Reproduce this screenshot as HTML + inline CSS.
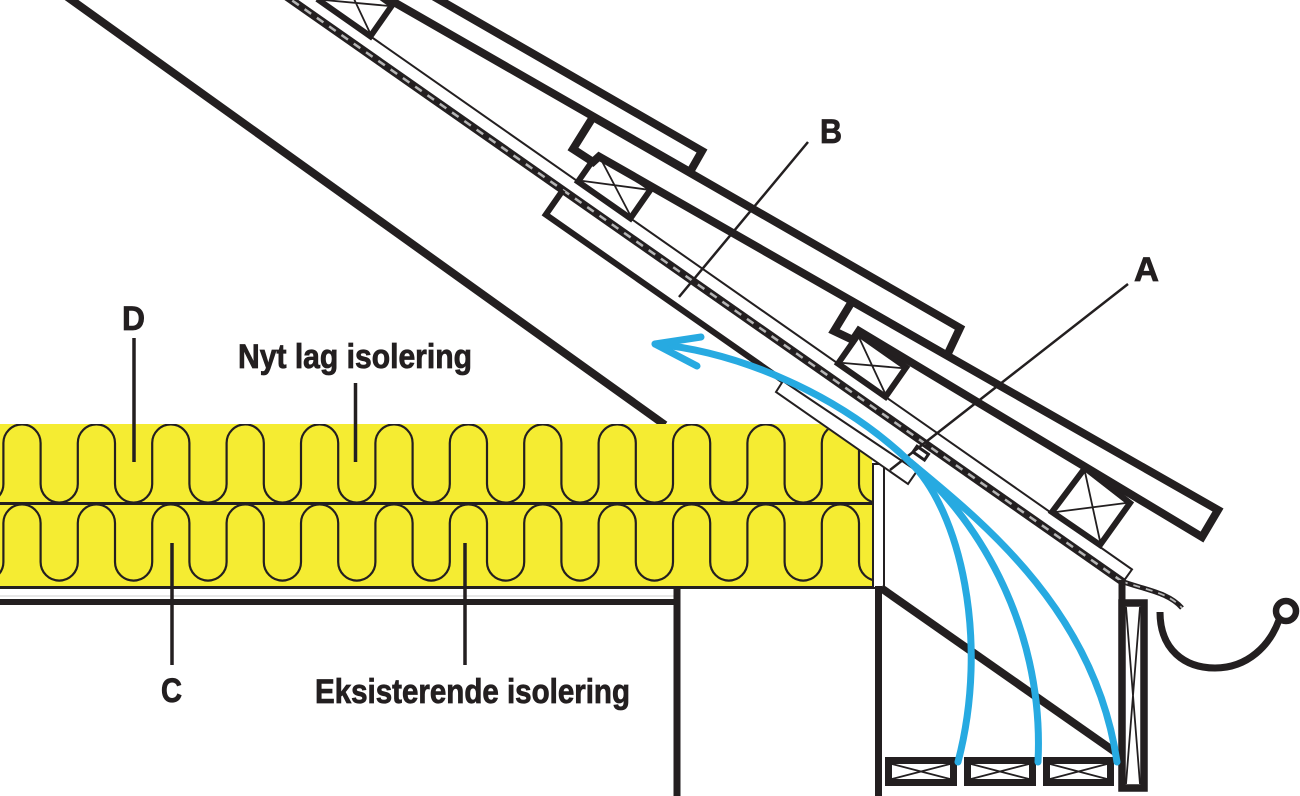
<!DOCTYPE html>
<html>
<head>
<meta charset="utf-8">
<style>
  html, body { margin: 0; padding: 0; background: #ffffff; }
  svg { display: block; }
  text { font-family: "Liberation Sans Narrow", "Liberation Sans", sans-serif; font-weight: bold; fill: #231f20; stroke: #231f20; stroke-width: 0.8; }
</style>
</head>
<body>
<svg width="1300" height="796" viewBox="0 0 1300 796" xmlns="http://www.w3.org/2000/svg">
  <rect width="1300" height="796" fill="#ffffff"/>
  <defs>
    <clipPath id="ins"><polygon points="0,424 820,424 872,459 872,587 0,587"/></clipPath>
  </defs>

  <!-- inner rafter line -->
  <line x1="66" y1="-4" x2="665" y2="425" stroke="#231f20" stroke-width="8"/>

  <!-- insulation -->
  <polygon points="0,424 820,424 872,459 872,587 0,587" fill="#f5ec32"/>
  <g clip-path="url(#ins)" fill="none" stroke="#231f20" stroke-width="2.2">
    <path d="M-33.8 443 v41a18.6 18.6 0 0 0 37.2 0v-41a18.6 18.6 0 0 1 37.2 0 v41a18.6 18.6 0 0 0 37.2 0v-41a18.6 18.6 0 0 1 37.2 0 v41a18.6 18.6 0 0 0 37.2 0v-41a18.6 18.6 0 0 1 37.2 0 v41a18.6 18.6 0 0 0 37.2 0v-41a18.6 18.6 0 0 1 37.2 0 v41a18.6 18.6 0 0 0 37.2 0v-41a18.6 18.6 0 0 1 37.2 0 v41a18.6 18.6 0 0 0 37.2 0v-41a18.6 18.6 0 0 1 37.2 0 v41a18.6 18.6 0 0 0 37.2 0v-41a18.6 18.6 0 0 1 37.2 0 v41a18.6 18.6 0 0 0 37.2 0v-41a18.6 18.6 0 0 1 37.2 0 v41a18.6 18.6 0 0 0 37.2 0v-41a18.6 18.6 0 0 1 37.2 0 v41a18.6 18.6 0 0 0 37.2 0v-41a18.6 18.6 0 0 1 37.2 0 v41a18.6 18.6 0 0 0 37.2 0v-41a18.6 18.6 0 0 1 37.2 0 v41a18.6 18.6 0 0 0 37.2 0v-41a18.6 18.6 0 0 1 37.2 0 v41a18.6 18.6 0 0 0 37.2 0v-41a18.6 18.6 0 0 1 37.2 0"/>
    <path d="M-33.8 523 v39a18.6 18.6 0 0 0 37.2 0v-39a18.6 18.6 0 0 1 37.2 0 v39a18.6 18.6 0 0 0 37.2 0v-39a18.6 18.6 0 0 1 37.2 0 v39a18.6 18.6 0 0 0 37.2 0v-39a18.6 18.6 0 0 1 37.2 0 v39a18.6 18.6 0 0 0 37.2 0v-39a18.6 18.6 0 0 1 37.2 0 v39a18.6 18.6 0 0 0 37.2 0v-39a18.6 18.6 0 0 1 37.2 0 v39a18.6 18.6 0 0 0 37.2 0v-39a18.6 18.6 0 0 1 37.2 0 v39a18.6 18.6 0 0 0 37.2 0v-39a18.6 18.6 0 0 1 37.2 0 v39a18.6 18.6 0 0 0 37.2 0v-39a18.6 18.6 0 0 1 37.2 0 v39a18.6 18.6 0 0 0 37.2 0v-39a18.6 18.6 0 0 1 37.2 0 v39a18.6 18.6 0 0 0 37.2 0v-39a18.6 18.6 0 0 1 37.2 0 v39a18.6 18.6 0 0 0 37.2 0v-39a18.6 18.6 0 0 1 37.2 0 v39a18.6 18.6 0 0 0 37.2 0v-39a18.6 18.6 0 0 1 37.2 0 v39a18.6 18.6 0 0 0 37.2 0v-39a18.6 18.6 0 0 1 37.2 0"/>
  </g>
  <line x1="0" y1="503.5" x2="872" y2="503.5" stroke="#231f20" stroke-width="3"/>
  <line x1="0" y1="587.5" x2="878" y2="587.5" stroke="#231f20" stroke-width="3"/>

  <!-- ceiling -->
  <line x1="0" y1="596" x2="676" y2="596" stroke="#cfcfcf" stroke-width="1"/>
  <line x1="0" y1="602" x2="680" y2="602" stroke="#231f20" stroke-width="6"/>
  <line x1="677" y1="586" x2="677" y2="796" stroke="#231f20" stroke-width="7"/>

  <!-- wall plate strip -->
  <rect x="873" y="464" width="11" height="124" fill="#ffffff" stroke="#231f20" stroke-width="2"/>
  <line x1="878.5" y1="586" x2="878.5" y2="796" stroke="#231f20" stroke-width="7"/>
  <!-- soffit diagonal -->
  <line x1="881" y1="588" x2="1118" y2="754" stroke="#231f20" stroke-width="8"/>

  <!-- membrane (underlay) -->
  <line x1="280" y1="-8" x2="1123" y2="582.1" stroke="#231f20" stroke-width="8"/>
  <line x1="280" y1="-8" x2="1123" y2="582.1" stroke="#b5b5b5" stroke-width="2.5" stroke-dasharray="8 7"/>
  <path d="M1121 581 C1145 590 1168 592 1182 608" fill="none" stroke="#231f20" stroke-width="5"/>
  <path d="M1121 581 C1145 590 1168 592 1182 608" fill="none" stroke="#b5b5b5" stroke-width="1.8" stroke-dasharray="7 6"/>
  <!-- counter batten thin line -->
  <polyline points="305,-9.5 1132,569.4 1123,582" fill="none" stroke="#231f20" stroke-width="2"/>

  <!-- lower board under membrane -->
  <polyline points="563,190 545.8,214.6 783,380.7" fill="none" stroke="#231f20" stroke-width="6"/>
  <polygon points="783,381 917,471 908,484 776,392" fill="#ffffff" stroke="#231f20" stroke-width="2"/>
  <!-- small part A -->
  <g transform="translate(913,452) rotate(35)">
    <rect x="0" y="-7" width="14" height="7" fill="#ffffff" stroke="#231f20" stroke-width="3"/>
  </g>

  <!-- battens -->
  <g fill="#ffffff" stroke="#231f20">
    <g transform="translate(319.6,0.7) rotate(35)">
      <rect x="0" y="-38" width="62" height="38" stroke-width="6"/>
      <path d="M3 -3 L59 -35 M3 -35 L59 -3" stroke-width="1.8"/>
    </g>
    <g transform="translate(578,181.6) rotate(35)">
      <rect x="0" y="-36" width="64" height="36" stroke-width="6"/>
      <path d="M3 -3 L61 -33 M3 -33 L61 -3" stroke-width="1.8"/>
    </g>
    <g transform="translate(838,363.6) rotate(35)">
      <rect x="0" y="-36" width="58" height="36" stroke-width="6"/>
      <path d="M3 -3 L55 -33 M3 -33 L55 -3" stroke-width="1.8"/>
    </g>
    <polygon points="1085,468 1130,503 1100,545 1052,512" stroke-width="6"/>
    <path d="M1085,472 L1100,541 M1056,512 L1126,503" stroke-width="1.8"/>
  </g>

  <!-- tiles -->
  <g fill="#ffffff" stroke="#231f20" stroke-width="8" stroke-linejoin="miter">
    <polygon points="300,-80.5 702,151 690,172 250,-80.5"/>
    <polygon points="593,117 960,328 947,355.5 599,156.5 593,162 573,149"/>
    <polygon points="852,301.4 1218,510 1202,537 859,331 853,340 834,331"/>
  </g>

  <!-- bottom battens -->
  <g fill="#ffffff" stroke="#231f20">
    <rect x="888.5" y="760.5" width="65" height="22" stroke-width="7"/>
    <path d="M892 764 L950 779 M892 779 L950 764" stroke-width="1.8"/>
    <rect x="967.5" y="760.5" width="65" height="22" stroke-width="7"/>
    <path d="M971 764 L1029 779 M971 779 L1029 764" stroke-width="1.8"/>
    <rect x="1046.5" y="760.5" width="64" height="22" stroke-width="7"/>
    <path d="M1050 764 L1107 779 M1050 779 L1107 764" stroke-width="1.8"/>
    <rect x="1122" y="603" width="22" height="185" stroke-width="7.5"/>
    <path d="M1126 607 L1140 784 M1140 607 L1126 784" stroke-width="1.8"/>
  </g>
  <line x1="1122" y1="580" x2="1122" y2="604" stroke="#231f20" stroke-width="7"/>

  <!-- gutter -->
  <path d="M1160 612 C1160 650 1185 668 1215 668 C1248 668 1270 645 1279 620" fill="none" stroke="#231f20" stroke-width="7"/>
  <circle cx="1286" cy="611" r="10" fill="#ffffff" stroke="#231f20" stroke-width="6.5"/>

  <!-- leader lines -->
  <g stroke="#231f20" fill="none">
    <line x1="808" y1="142" x2="679" y2="297" stroke-width="2.5"/>
    <line x1="1128" y1="284" x2="890" y2="470" stroke-width="2.5"/>
    <line x1="134" y1="338" x2="134" y2="462" stroke-width="3.5"/>
    <line x1="355.5" y1="383" x2="355.5" y2="462" stroke-width="3.5"/>
    <line x1="172" y1="543" x2="172" y2="665" stroke-width="3.5"/>
    <line x1="465" y1="543" x2="465" y2="665" stroke-width="3.5"/>
  </g>

  <!-- airflow arrows -->
  <g fill="none" stroke="#27aae1" stroke-width="7" stroke-linecap="round" stroke-linejoin="round">
    <path d="M655 344 C740 352 840 395 910 462"/>
    <path d="M701 337 L655 344 L697 366"/>
    <path d="M910 462 C980 520 1095 610 1117 762"/>
    <path d="M910 462 C970 510 1045 620 1038 762"/>
    <path d="M910 462 C960 510 990 640 958 762"/>
  </g>

  <!-- labels -->
  <text x="820" y="143" font-size="34" textLength="22" lengthAdjust="spacingAndGlyphs">B</text>
  <text x="1134" y="281" font-size="34" textLength="25" lengthAdjust="spacingAndGlyphs">A</text>
  <text x="122" y="330" font-size="34" textLength="23" lengthAdjust="spacingAndGlyphs">D</text>
  <text x="238" y="368" font-size="34" textLength="234" lengthAdjust="spacingAndGlyphs">Nyt lag isolering</text>
  <text x="161" y="702" font-size="34" textLength="21" lengthAdjust="spacingAndGlyphs">C</text>
  <text x="315" y="703" font-size="34" textLength="315" lengthAdjust="spacingAndGlyphs">Eksisterende isolering</text>
</svg>
</body>
</html>
